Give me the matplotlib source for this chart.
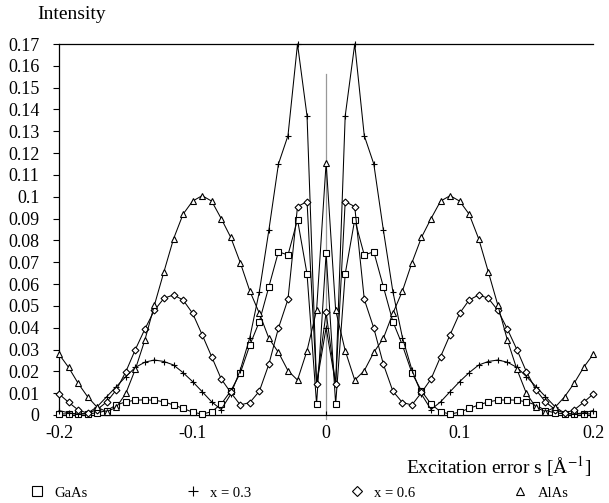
import numpy as np
import matplotlib
matplotlib.use('Agg')
import matplotlib.pyplot as plt
from matplotlib.lines import Line2D
from matplotlib.ticker import FuncFormatter, MultipleLocator

plt.rcParams['font.family'] = ['Liberation Serif', 'DejaVu Serif']
plt.rcParams['mathtext.fontset'] = 'stix'

# excitation error grid (57 samples from -0.2 to 0.2)
s = np.linspace(-0.2, 0.2, 57)

gaas = [0.0005, 0.0005, 0.0005, 0.0005, 0.001, 0.002, 0.0046, 0.006, 0.0068, 0.0069,
        0.0068, 0.006, 0.0046, 0.003, 0.0013, 0.0004, 0.0015, 0.005, 0.011, 0.0192,
        0.032, 0.0428, 0.0588, 0.0748, 0.0733, 0.0895, 0.0646, 0.005,
        0.074,
        0.005, 0.0646, 0.0895, 0.0733, 0.0748, 0.0588, 0.0428, 0.032, 0.0192, 0.011,
        0.005, 0.0015, 0.0004, 0.0013, 0.003, 0.0046, 0.006, 0.0068, 0.0069, 0.0068,
        0.006, 0.0046, 0.002, 0.001, 0.0005, 0.0005, 0.0005, 0.0005]

x03 = [0.002, 0.001, 0.0004, 0.0008, 0.0038, 0.0084, 0.013, 0.0176, 0.0218, 0.0242,
       0.0252, 0.0245, 0.0229, 0.0194, 0.0153, 0.0107, 0.006, 0.0025, 0.0095, 0.0206,
       0.0355, 0.0565, 0.0848, 0.115, 0.128, 0.17, 0.137, 0.014,
       0.040,
       0.014, 0.137, 0.17, 0.128, 0.115, 0.0848, 0.0565, 0.0355, 0.0206, 0.0095,
       0.0025, 0.006, 0.0107, 0.0153, 0.0194, 0.0229, 0.0245, 0.0252, 0.0242, 0.0218,
       0.0176, 0.013, 0.0084, 0.0038, 0.0008, 0.0004, 0.001, 0.002]

x06 = [0.0096, 0.0058, 0.0023, 0.0008, 0.0025, 0.006, 0.0115, 0.0198, 0.030, 0.0394,
       0.048, 0.0535, 0.055, 0.0527, 0.0466, 0.0368, 0.0267, 0.0165, 0.0103, 0.0046,
       0.0057, 0.0109, 0.0233, 0.0398, 0.053, 0.0955, 0.0978, 0.014,
       0.047,
       0.014, 0.0978, 0.0955, 0.053, 0.0398, 0.0233, 0.0109, 0.0057, 0.0046, 0.0103,
       0.0165, 0.0267, 0.0368, 0.0466, 0.0527, 0.055, 0.0535, 0.048, 0.0394, 0.030,
       0.0198, 0.0115, 0.006, 0.0025, 0.0008, 0.0023, 0.0058, 0.0096]

alas = [0.0278, 0.0218, 0.0145, 0.0083, 0.0035, 0.0015, 0.0035, 0.0099, 0.021, 0.0344,
        0.0504, 0.0657, 0.0807, 0.092, 0.098, 0.1005, 0.098, 0.090, 0.0814, 0.0698,
        0.0568, 0.0466, 0.0351, 0.0287, 0.0203, 0.016, 0.0295, 0.048,
        0.1156,
        0.048, 0.0295, 0.016, 0.0203, 0.0287, 0.0351, 0.0466, 0.0568, 0.0698, 0.0814,
        0.090, 0.098, 0.1005, 0.098, 0.092, 0.0807, 0.0657, 0.0504, 0.0344, 0.021,
        0.0099, 0.0035, 0.0015, 0.0035, 0.0083, 0.0145, 0.0218, 0.0278]

labels = ['GaAs', 'x = 0.3', 'x = 0.6', 'AlAs']
markers = ['s', '+', 'D', '^']
msizes = [5, 5, 3.5, 4.5]

fig = plt.figure(figsize=(6.09, 5.03), dpi=100)
ax = fig.add_axes([0.097, 0.175, 0.877, 0.7375])

ax.axvline(0, ymin=-0.01, ymax=0.92, color='#999999', lw=0.9, clip_on=False, zorder=1)

handles = []
for y, lab, m, ms in zip([gaas, x03, x06, alas], labels, markers, msizes):
    ax.plot(s, y, color='black', lw=0.75, marker=m, ms=ms, mfc='white', mec='black', mew=0.8,
            clip_on=False, zorder=3)
    handles.append(Line2D([], [], ls='none', marker=m, ms=ms + 1.5, mfc='white', mec='black',
                          mew=0.8, color='black'))

ax.set_xlim(-0.2, 0.2)
ax.set_ylim(0, 0.17)
ax.xaxis.set_major_locator(MultipleLocator(0.1))
ax.yaxis.set_major_locator(MultipleLocator(0.01))
ax.xaxis.set_major_formatter(FuncFormatter(lambda v, p: '%g' % round(v, 3)))
ax.yaxis.set_major_formatter(FuncFormatter(lambda v, p: '%g' % round(v, 3)))
ax.tick_params(axis='y', direction='out', length=4, width=0.8, labelsize=13, pad=10)
ax.tick_params(axis='x', direction='in', length=3, width=0.8, labelsize=13, pad=7)
ax.spines['right'].set_visible(False)
for sp in ['left', 'bottom', 'top']:
    ax.spines[sp].set_linewidth(0.9)

fig.text(0.062, 0.972, 'Intensity', fontsize=14, ha='left', va='center')
fig.text(0.97, 0.073, r'Excitation error s [Å$^{-1}$]', fontsize=14, ha='right', va='center')

fig.legend(handles, labels, loc='center', bbox_to_anchor=(0.49, 0.02), ncol=4,
           frameon=False, fontsize=10.5, columnspacing=6.6, handletextpad=0.6, handlelength=1.2)

fig.savefig('out.png', dpi=100)
